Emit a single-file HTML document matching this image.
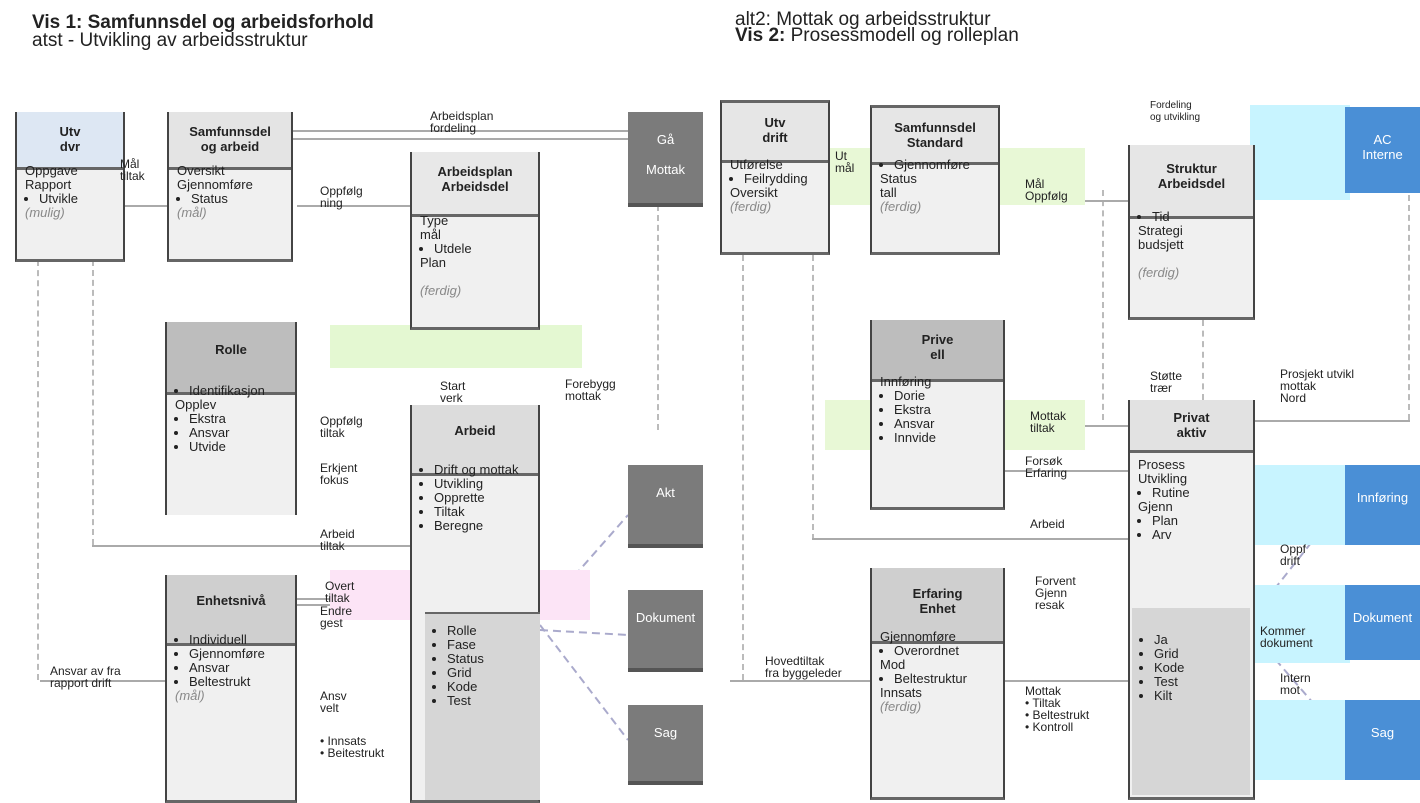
<!DOCTYPE html>
<html><head><meta charset="utf-8"><style>
body{margin:0;width:1420px;height:803px;background:#fff;position:relative;overflow:hidden;font-family:"Liberation Sans",sans-serif;font-size:13px;color:#222}
.a{position:absolute;box-sizing:border-box}
.box{background:#f0f0f0;border-left:2px solid #444;border-right:2px solid #444;border-bottom:3px solid #666}
.hd{position:absolute;left:0;right:0;top:0;text-align:center;font-weight:bold;font-size:13px;line-height:15px;padding-top:12px;border-bottom:3px solid #666}
.bd{position:absolute;left:8px;right:4px;font-size:13px;line-height:14px}
.bd ul{margin:0;padding-left:14px}
.it{color:#888;font-style:italic}
.dk{background:#7b7b7b;color:#fff;text-align:center;font-size:13px;padding-top:20px;border-bottom:4px solid #555}
.bl{background:#4a8fd6;color:#fff;text-align:center;font-size:13px;padding-top:25px}
.cy{background:#c8f4ff}
.lbl{font-size:12px;line-height:12px}
.hl{border-top:2px solid #aaa;height:0}
.vl{border-left:2px dashed #bbb;width:0}
</style></head><body>
<div class="a" style="left:32px;top:14px;font-size:19px;font-weight:bold;line-height:18px">Vis 1: Samfunnsdel og arbeidsforhold<br><span style="font-weight:normal">atst - Utvikling av arbeidsstruktur</span></div>
<div class="a" style="left:735px;top:12px;font-size:19px;line-height:16px">alt2: Mottak og arbeidsstruktur<br><b>Vis 2:</b> Prosessmodell og rolleplan</div>

<!-- connectors -->
<div class="a vl" style="left:37px;top:260px;height:420px"></div>
<div class="a vl" style="left:92px;top:260px;height:285px"></div>
<div class="a vl" style="left:657px;top:205px;height:225px"></div>
<div class="a vl" style="left:742px;top:255px;height:425px"></div>
<div class="a vl" style="left:812px;top:255px;height:285px"></div>
<div class="a vl" style="left:1102px;top:190px;height:230px"></div>
<div class="a vl" style="left:1202px;top:320px;height:80px"></div>
<div class="a vl" style="left:1408px;top:195px;height:225px"></div>
<div class="a hl" style="left:293px;top:130px;width:335px"></div>
<div class="a hl" style="left:293px;top:138px;width:335px"></div>
<div class="a hl" style="left:115px;top:205px;width:52px"></div>
<div class="a hl" style="left:297px;top:205px;width:113px"></div>
<div class="a hl" style="left:92px;top:545px;width:318px"></div>
<div class="a hl" style="left:297px;top:598px;width:113px"></div>
<div class="a hl" style="left:297px;top:604px;width:113px"></div>
<div class="a hl" style="left:40px;top:680px;width:125px"></div>
<div class="a hl" style="left:1000px;top:200px;width:128px"></div>
<div class="a hl" style="left:1005px;top:425px;width:123px"></div>
<div class="a hl" style="left:1005px;top:470px;width:123px"></div>
<div class="a hl" style="left:812px;top:538px;width:316px"></div>
<div class="a hl" style="left:1255px;top:420px;width:155px"></div>
<div class="a hl" style="left:730px;top:680px;width:140px"></div>
<div class="a hl" style="left:1005px;top:680px;width:123px"></div>
<svg class="a" style="left:0;top:0" width="1420" height="803">
<g stroke="#aac" stroke-width="2" stroke-dasharray="8,5" fill="none">
<line x1="540" y1="615" x2="628" y2="515"/><line x1="540" y1="625" x2="628" y2="740"/><line x1="540" y1="630" x2="628" y2="635"/>
<line x1="1250" y1="620" x2="1345" y2="500"/><line x1="1250" y1="630" x2="1345" y2="740"/></g></svg>

<!-- colored bands -->
<div class="a" style="left:330px;top:325px;width:252px;height:43px;background:#e4f8d2"></div>
<div class="a" style="left:330px;top:570px;width:260px;height:50px;background:#fce4f6"></div>
<div class="a" style="left:825px;top:148px;width:260px;height:57px;background:#e8f8d6"></div>
<div class="a" style="left:825px;top:400px;width:260px;height:50px;background:#e8f8d6"></div>
<div class="a cy" style="left:1250px;top:105px;width:100px;height:95px"></div>
<div class="a cy" style="left:1250px;top:465px;width:100px;height:80px"></div>
<div class="a cy" style="left:1250px;top:585px;width:100px;height:78px"></div>
<div class="a cy" style="left:1250px;top:700px;width:100px;height:80px"></div>

<!-- left boxes -->
<div class="a box" style="left:15px;top:112px;width:110px;height:150px"><div class="hd" style="background:#dde7f3;height:43px">Utv<br>dvr</div><div class="bd" style="top:52px">Oppgave<br>Rapport<ul><li>Utvikle</li></ul><span class="it">(mulig)</span></div></div>
<div class="a box" style="left:167px;top:112px;width:126px;height:150px"><div class="hd" style="background:#e4e4e4;height:43px">Samfunnsdel<br>og arbeid</div><div class="bd" style="top:52px">Oversikt<br>Gjennomføre<ul><li>Status</li></ul><span class="it">(mål)</span></div></div>
<div class="a box" style="left:410px;top:152px;width:130px;height:178px"><div class="hd" style="background:#e8e8e8;height:50px">Arbeidsplan<br>Arbeidsdel</div><div class="bd" style="top:62px">Type<br>mål<ul><li>Utdele</li></ul>Plan<br><br><span class="it">(ferdig)</span></div></div>
<div class="a dk" style="left:628px;top:112px;width:75px;height:95px">Gå<br><br>Mottak</div>
<div class="a box" style="left:165px;top:322px;width:132px;height:193px;border-bottom:none"><div class="hd" style="background:#bdbdbd;height:50px;padding-top:20px">Rolle</div><div class="bd" style="top:62px"><ul><li>Identifikasjon</li></ul>Opplev<ul><li>Ekstra</li><li>Ansvar</li><li>Utvide</li></ul></div></div>
<div class="a box" style="left:410px;top:405px;width:130px;height:398px"><div class="hd" style="background:#dcdcdc;height:50px;padding-top:18px">Arbeid</div><div class="bd" style="top:58px"><ul><li>Drift og mottak</li><li>Utvikling</li><li>Opprette</li><li>Tiltak</li><li>Beregne</li></ul></div></div>
<div class="a" style="left:425px;top:612px;width:115px;height:188px;background:#d6d6d6;border-top:2px solid #666"><div class="bd" style="top:10px"><ul><li>Rolle</li><li>Fase</li><li>Status</li><li>Grid</li><li>Kode</li><li>Test</li></ul></div></div>
<div class="a dk" style="left:628px;top:465px;width:75px;height:83px">Akt</div>
<div class="a dk" style="left:628px;top:590px;width:75px;height:82px">Dokument</div>
<div class="a dk" style="left:628px;top:705px;width:75px;height:80px">Sag</div>
<div class="a box" style="left:165px;top:575px;width:132px;height:228px"><div class="hd" style="background:#cfcfcf;height:50px;padding-top:18px">Enhetsnivå</div><div class="bd" style="top:58px"><ul><li>Individuell</li><li>Gjennomføre</li><li>Ansvar</li><li>Beltestrukt</li></ul><span class="it">(mål)</span></div></div>

<!-- left labels -->
<div class="a lbl" style="left:430px;top:110px">Arbeidsplan<br>fordeling</div>
<div class="a lbl" style="left:120px;top:158px">Mål<br>tiltak</div>
<div class="a lbl" style="left:320px;top:185px">Oppfølg<br>ning</div>
<div class="a lbl" style="left:440px;top:380px">Start<br>verk</div>
<div class="a lbl" style="left:565px;top:378px">Forebygg<br>mottak</div>
<div class="a lbl" style="left:320px;top:415px">Oppfølg<br>tiltak</div>
<div class="a lbl" style="left:320px;top:462px">Erkjent<br>fokus</div>
<div class="a lbl" style="left:320px;top:528px">Arbeid<br>tiltak</div>
<div class="a lbl" style="left:325px;top:580px">Overt<br>tiltak</div>
<div class="a lbl" style="left:320px;top:605px">Endre<br>gest</div>
<div class="a lbl" style="left:50px;top:665px">Ansvar av fra<br>rapport drift</div>
<div class="a lbl" style="left:320px;top:690px">Ansv<br>velt</div>
<div class="a lbl" style="left:320px;top:735px">• Innsats<br>• Beitestrukt</div>

<!-- right boxes -->
<div class="a box" style="left:720px;top:100px;width:110px;height:155px;border-top:3px solid #666"><div class="hd" style="background:#e6e6e6;height:45px">Utv<br>drift</div><div class="bd" style="top:55px">Utførelse<ul><li>Feilrydding</li></ul>Oversikt<br><span class="it">(ferdig)</span></div></div>
<div class="a box" style="left:870px;top:105px;width:130px;height:150px;border-top:3px solid #666"><div class="hd" style="background:#e6e6e6;height:42px">Samfunnsdel<br>Standard</div><div class="bd" style="top:50px"><ul><li>Gjennomføre</li></ul>Status<br>tall<br><span class="it">(ferdig)</span></div></div>
<div class="a box" style="left:1128px;top:145px;width:127px;height:175px"><div class="hd" style="background:#e6e6e6;height:55px;padding-top:16px">Struktur<br>Arbeidsdel</div><div class="bd" style="top:65px"><ul><li>Tid</li></ul>Strategi<br>budsjett<br><br><span class="it">(ferdig)</span></div></div>
<div class="a bl" style="left:1345px;top:107px;width:75px;height:86px">AC<br>Interne</div>
<div class="a box" style="left:870px;top:320px;width:135px;height:190px"><div class="hd" style="background:#bdbdbd;height:47px;padding-top:12px">Prive<br>ell</div><div class="bd" style="top:55px">Innføring<ul><li>Dorie</li><li>Ekstra</li><li>Ansvar</li><li>Innvide</li></ul></div></div>
<div class="a box" style="left:1128px;top:400px;width:127px;height:400px"><div class="hd" style="background:#e2e2e2;height:40px;padding-top:10px">Privat<br>aktiv</div><div class="bd" style="top:58px">Prosess<br>Utvikling<ul><li>Rutine</li></ul>Gjenn<ul><li>Plan</li><li>Arv</li></ul></div></div>
<div class="a" style="left:1132px;top:608px;width:118px;height:187px;background:#d6d6d6"><div class="bd" style="top:25px"><ul><li>Ja</li><li>Grid</li><li>Kode</li><li>Test</li><li>Kilt</li></ul></div></div>
<div class="a bl" style="left:1345px;top:465px;width:75px;height:80px">Innføring</div>
<div class="a bl" style="left:1345px;top:585px;width:75px;height:75px">Dokument</div>
<div class="a bl" style="left:1345px;top:700px;width:75px;height:80px">Sag</div>
<div class="a box" style="left:870px;top:568px;width:135px;height:232px"><div class="hd" style="background:#cfcfcf;height:55px;padding-top:18px">Erfaring<br>Enhet</div><div class="bd" style="top:62px">Gjennomføre<ul><li>Overordnet</li></ul>Mod<ul><li>Beltestruktur</li></ul>Innsats<br><span class="it">(ferdig)</span></div></div>

<!-- right labels -->
<div class="a lbl" style="left:1150px;top:100px;font-size:10px">Fordeling<br>og utvikling</div>
<div class="a lbl" style="left:835px;top:150px">Ut<br>mål</div>
<div class="a lbl" style="left:1025px;top:178px">Mål<br>Oppfølg</div>
<div class="a lbl" style="left:1150px;top:370px">Støtte<br>trær</div>
<div class="a lbl" style="left:1280px;top:368px">Prosjekt utvikl<br>mottak<br>Nord</div>
<div class="a lbl" style="left:1030px;top:410px">Mottak<br>tiltak</div>
<div class="a lbl" style="left:1025px;top:455px">Forsøk<br>Erfaring</div>
<div class="a lbl" style="left:1030px;top:518px">Arbeid</div>
<div class="a lbl" style="left:1035px;top:575px">Forvent<br>Gjenn<br>resak</div>
<div class="a lbl" style="left:1280px;top:543px">Oppf<br>drift</div>
<div class="a lbl" style="left:1260px;top:625px">Kommer<br>dokument</div>
<div class="a lbl" style="left:1280px;top:672px">Intern<br>mot</div>
<div class="a lbl" style="left:765px;top:655px">Hovedtiltak<br>fra byggeleder</div>
<div class="a lbl" style="left:1025px;top:685px">Mottak<br>• Tiltak<br>• Beltestrukt<br>• Kontroll</div>
</body></html>
